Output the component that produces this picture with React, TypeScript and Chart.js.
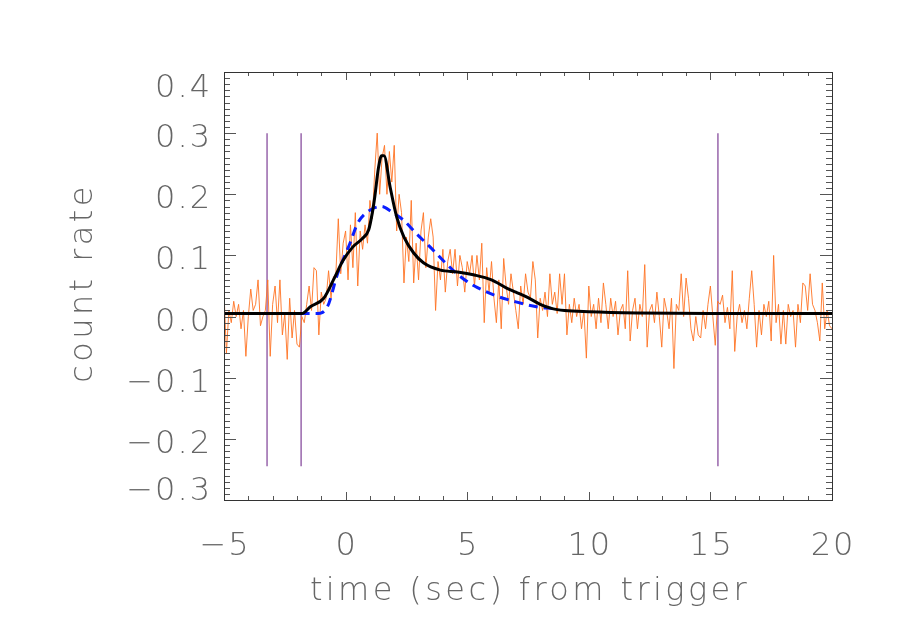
import { useEffect, useRef } from 'react';
import { Chart, registerables } from 'chart.js';

Chart.register(...registerables);

// Light curve bins (start time and bin width, seconds from trigger)
const binStart = -5.0;
const binWidth = 0.1;

// Observed count rate per bin (orange, noisy)
const rates: number[] = [
  0.04, -0.06, 0.01, -0.01, 0.025, 0.0, 0.02, -0.02, 0.01, -0.065,
  0.0, 0.045, 0.01, 0.02, 0.06, -0.015, 0.0, 0.01, 0.06, -0.065,
  0.02, 0.05, -0.01, 0.06, -0.03, 0.005, -0.07, 0.03, -0.035, 0.01,
  -0.045, -0.05, 0.0, -0.01, 0.02, 0.05, 0.01, 0.08, 0.075, -0.03,
  0.04, 0.02, 0.03, 0.075, 0.03, 0.065, 0.07, 0.16, 0.07, 0.12,
  0.14, 0.06, 0.15, 0.08, 0.17, 0.05, 0.14, 0.11, 0.15, 0.12,
  0.19, 0.16, 0.24, 0.30, 0.2, 0.26, 0.28, 0.2, 0.27, 0.22,
  0.28, 0.14, 0.2, 0.17, 0.055, 0.13, 0.09, 0.19, 0.055, 0.12,
  0.06, 0.14, 0.17, 0.08, 0.13, 0.16, 0.13, 0.01, 0.09, 0.06,
  0.11, 0.04, 0.09, 0.11, 0.07, 0.11, 0.05, 0.1, 0.08, 0.04,
  0.09, 0.07, 0.1, 0.05, 0.1, 0.06, 0.12, -0.01, 0.08, 0.04,
  0.09, 0.03, -0.01, 0.06, -0.02, 0.095, 0.05, 0.02, 0.07, 0.04,
  0.01, -0.02, 0.05, 0.02, 0.07, 0.04, 0.03, 0.09, 0.06, -0.035,
  0.03, 0.01, 0.04, 0.0, 0.07, 0.02, 0.04, 0.005, 0.07, 0.02,
  0.07, -0.03, 0.02, -0.01, 0.03, 0.0, 0.02, -0.02, 0.01, -0.068,
  0.05, 0.0, 0.02, -0.02, 0.03, -0.01, 0.055, 0.02, -0.02, 0.03,
  0.0, 0.025, -0.03, 0.01, 0.02, -0.02, 0.075, -0.04, 0.01, 0.03,
  -0.02, 0.02, 0.0, 0.085, -0.05, 0.01, 0.02, -0.01, 0.04, 0.0,
  -0.05, 0.03, 0.01, -0.02, 0.03, -0.085, 0.02, 0.01, 0.07, 0.0,
  0.063, 0.03, -0.02, -0.04, 0.0, -0.03, -0.035, 0.01, -0.02, 0.02,
  0.05, 0.0, -0.047, 0.025, 0.02, 0.035, -0.01, 0.015, -0.02, 0.075,
  -0.057, 0.0, 0.02, -0.01, 0.01, -0.02, 0.03, 0.075, 0.02, -0.05,
  0.01, -0.03, 0.02, 0.0, 0.025, -0.04, 0.1, -0.01, 0.02, -0.045,
  0.01, -0.045, 0.02, 0.0, 0.01, -0.05, 0.02, -0.01, 0.055, 0.05,
  0.01, 0.07, 0.02, 0.01, -0.01, -0.04, 0.055, -0.02, 0.01, -0.015,
  -0.02,
];

// Black model curve
const modelTimes: number[] = [
  -5, -1.8, -1.45, -0.9, -0.5, -0.1, 0.3, 0.7, 0.95, 1.1, 1.2, 1.35, 1.48,
  1.58, 1.83, 2.1, 2.4, 2.8, 3.2, 3.9, 4.6, 5.3, 6.0, 6.6, 7.0, 7.5, 8.0,
  8.5, 9.0, 10, 12, 15, 20,
];
const modelRates: number[] = [
  0.005, 0.005, 0.016, 0.03, 0.06, 0.092, 0.114, 0.128, 0.142, 0.17, 0.196,
  0.243, 0.263, 0.263, 0.212, 0.163, 0.13, 0.104, 0.088, 0.076, 0.073, 0.068,
  0.06, 0.047, 0.04, 0.031, 0.02, 0.013, 0.01, 0.008, 0.006, 0.005, 0.005,
];

// Blue dashed model curve
const fitTimes: number[] = [
  -1.85, -1.2, -0.75, -0.33, 0.18, 0.5, 1.0, 1.48, 1.9, 2.37, 2.9, 3.47, 4.1,
  4.7, 5.3, 6.25, 7.0, 7.85, 8.5,
];
const fitRates: number[] = [
  0.005, 0.005, 0.016, 0.07, 0.12, 0.153, 0.174, 0.18, 0.171, 0.158, 0.136,
  0.114, 0.088, 0.066, 0.05, 0.033, 0.024, 0.016, 0.013,
];

// Purple vertical markers
const markerTimes: number[] = [-3.23, -1.83, 15.31];
const markerTop = 0.3;
const markerBottom = -0.245;

// Axes
const xMin = -5;
const xMax = 20;
const yMin = -0.3;
const yMax = 0.4;
const xTickLabels: number[] = [-5, 0, 5, 10, 15, 20];
const yTickLabels: number[] = [-0.3, -0.2, -0.1, 0.0, 0.1, 0.2, 0.3, 0.4];
const xTitle = 'time (sec) from trigger';
const yTitle = 'count rate';

const FONT = '200 32px "DejaVu Sans"';
const TEXT_COLOR = '#666666';

const fmt = (v: number) => {
  const s = Math.abs(v) < 1e-9 ? '0' : String(Math.abs(v));
  return (v < -1e-9 ? '\u2212' : '') + s;
};
const fmtY = (v: number) => (v < -1e-9 ? '\u2212' : '') + Math.abs(v).toFixed(1);

const idlPlugin = {
  id: 'idlFrame',
  afterDraw(chart: any) {
    const { ctx, chartArea } = chart;
    const { left, right, top, bottom } = chartArea;
    const xs = chart.scales.x;
    const ys = chart.scales.y;
    ctx.save();
    // ticks
    ctx.strokeStyle = '#555555';
    ctx.lineWidth = 1;
    ctx.beginPath();
    for (let k = xMin; k <= xMax; k++) {
      const px = Math.round(xs.getPixelForValue(k)) + 0.5;
      const len = k % 5 === 0 ? 8 : 4;
      ctx.moveTo(px, bottom);
      ctx.lineTo(px, bottom - len);
      ctx.moveTo(px, top);
      ctx.lineTo(px, top + len);
    }
    for (let k = Math.round(yMin * 100); k <= Math.round(yMax * 100); k++) {
      const py = Math.round(ys.getPixelForValue(k / 100)) + 0.5;
      const len = k % 10 === 0 ? 12 : 6;
      ctx.moveTo(left, py);
      ctx.lineTo(left + len, py);
      ctx.moveTo(right, py);
      ctx.lineTo(right - len, py);
    }
    ctx.stroke();
    // frame
    ctx.strokeStyle = '#333333';
    ctx.strokeRect(Math.round(left) + 0.5, Math.round(top) + 0.5, Math.round(right - left), Math.round(bottom - top));

    // labels
    ctx.fillStyle = TEXT_COLOR;
    ctx.font = FONT;
    (ctx as any).letterSpacing = '2px';
    ctx.textBaseline = 'alphabetic';
    ctx.textAlign = 'center';
    for (const v of xTickLabels) {
      const px = xs.getPixelForValue(v);
      ctx.fillText(fmt(v), px + 1, 555);
    }
    ctx.textAlign = 'right';
    for (const v of yTickLabels) {
      const py = ys.getPixelForValue(v);
      const base = Math.min(Math.max(py + 14, top + 25), bottom);
      ctx.fillText(fmtY(v), 212, base);
    }
    (ctx as any).letterSpacing = '3.4px';
    ctx.textAlign = 'center';
    ctx.fillText(xTitle, (left + right) / 2 + 2, 600);
    ctx.save();
    ctx.translate(92, 285);
    ctx.rotate(-Math.PI / 2);
    ctx.fillText(yTitle, 2, 0);
    ctx.restore();
    ctx.restore();
  },
};

export default function App() {
  const ref = useRef<HTMLCanvasElement | null>(null);
  useEffect(() => {
    if (!ref.current) return;
    const observed = rates.map((r, i) => ({ x: binStart + i * binWidth, y: r }));
    const model = modelTimes.map((t, i) => ({ x: t, y: modelRates[i] }));
    const fit = fitTimes.map((t, i) => ({ x: t, y: fitRates[i] }));
    const markers = markerTimes.map((t) => ({
      label: 'marker',
      data: [{ x: t, y: markerBottom }, { x: t, y: markerTop }],
      borderColor: '#7e3f96',
      borderWidth: 1.2,
      pointRadius: 0,
      order: 3,
    }));
    const chart = new Chart(ref.current, {
      type: 'line',
      data: {
        datasets: [
          {
            label: 'model',
            data: model,
            borderColor: '#000000',
            borderWidth: 3,
            pointRadius: 0,
            cubicInterpolationMode: 'monotone',
            order: 0,
          },
          {
            label: 'fit',
            data: fit,
            borderColor: '#0a1eff',
            borderWidth: 3,
            borderDash: [9, 6],
            pointRadius: 0,
            cubicInterpolationMode: 'monotone',
            order: 1,
          },
          {
            label: 'data',
            data: observed,
            borderColor: 'rgba(255,115,35,0.9)',
            borderWidth: 1,
            pointRadius: 0,
            tension: 0,
            order: 2,
          },
          ...markers,
        ] as any,
      },
      options: {
        responsive: false,
        animation: false,
        events: [],
        layout: { padding: { left: 224, right: 68, top: 72, bottom: 143 } },
        plugins: { legend: { display: false }, tooltip: { enabled: false } },
        scales: {
          x: { type: 'linear', min: xMin, max: xMax, display: false },
          y: { type: 'linear', min: yMin, max: yMax, display: false },
        },
      },
      plugins: [idlPlugin],
    });
    return () => chart.destroy();
  }, []);
  return (
    <div style={{ position: 'fixed', left: 0, top: 0, width: 900, height: 643, background: '#ffffff' }}>
      <canvas ref={ref} width={900} height={643} style={{ display: 'block' }} />
    </div>
  );
}
